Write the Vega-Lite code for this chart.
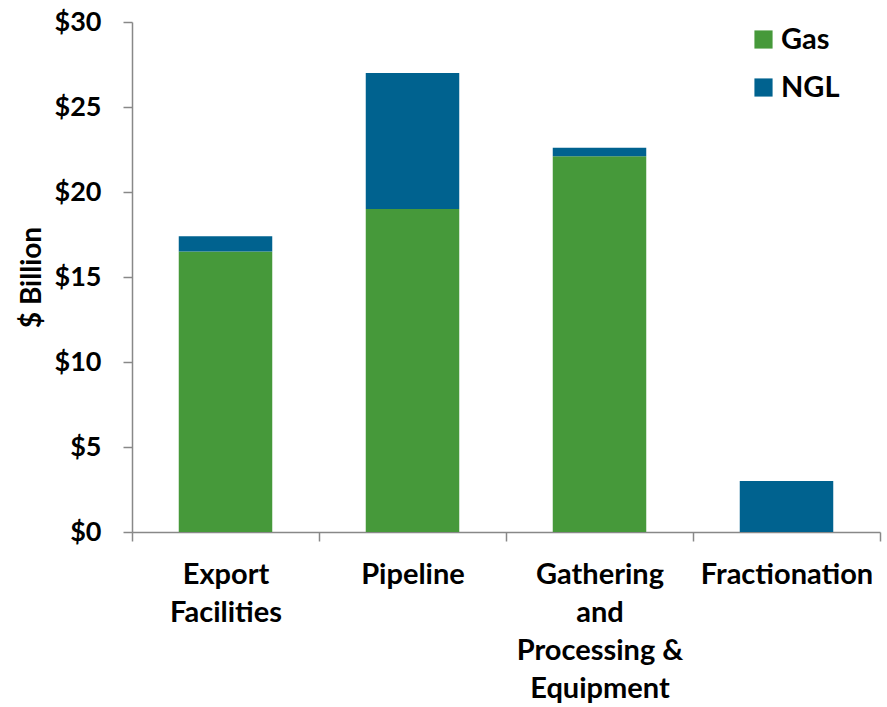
{
  "$schema": "https://vega.github.io/schema/vega-lite/v6.json",
  "width": 748,
  "height": 510,
  "autosize": {"type": "none"},
  "padding": {"left": 132, "top": 22, "right": 7, "bottom": 175},
  "background": "white",
  "data": {
    "values": [
      {"category": "Export Facilities", "type": "Gas", "value": 16.5},
      {"category": "Export Facilities", "type": "NGL", "value": 0.9},
      {"category": "Pipeline", "type": "Gas", "value": 19.0},
      {"category": "Pipeline", "type": "NGL", "value": 8.0},
      {"category": "Gathering and Processing & Equipment", "type": "Gas", "value": 22.1},
      {"category": "Gathering and Processing & Equipment", "type": "NGL", "value": 0.5},
      {"category": "Fractionation", "type": "NGL", "value": 3.0}
    ]
  },
  "mark": {"type": "bar", "width": {"band": 0.5}},
  "encoding": {
    "x": {
      "field": "category",
      "type": "nominal",
      "sort": ["Export Facilities", "Pipeline", "Gathering and Processing & Equipment", "Fractionation"],
      "scale": {"paddingInner": 0, "paddingOuter": 0},
      "axis": {
        "title": null,
        "labelAngle": 0,
        "bandPosition": 0,
        "ticks": true,
        "tickBand": "extent",
        "tickSize": 9,
        "tickColor": "#888888",
        "domainColor": "#888888",
        "domainWidth": 1.5,
        "tickWidth": 1.5,
        "labelFont": "Lato",
        "labelFontWeight": "bold",
        "labelFontSize": 29,
        "labelColor": "#000000",
        "labelPadding": 19,
        "labelLineHeight": 38,
        "labelBaseline": "top",
        "labelExpr": "datum.value == 'Export Facilities' ? ['Export', 'Facilities'] : datum.value == 'Gathering and Processing & Equipment' ? ['Gathering', 'and', 'Processing &', 'Equipment'] : datum.value"
      }
    },
    "y": {
      "field": "value",
      "type": "quantitative",
      "aggregate": "sum",
      "stack": "zero",
      "scale": {"domain": [0, 30], "nice": false},
      "axis": {
        "title": "$ Billion",
        "titleFont": "Lato",
        "titleFontWeight": "bold",
        "titleFontSize": 28,
        "titleColor": "#000000",
        "titlePadding": 8,
        "values": [0, 5, 10, 15, 20, 25, 30],
        "labelExpr": "'$' + datum.value",
        "labelFont": "Lato",
        "labelFontWeight": "bold",
        "labelFontSize": 27,
        "labelColor": "#000000",
        "labelPadding": 22,
        "tickSize": 9,
        "tickColor": "#888888",
        "tickWidth": 1.5,
        "domainColor": "#888888",
        "domainWidth": 1.5,
        "grid": false
      }
    },
    "color": {
      "field": "type",
      "type": "nominal",
      "scale": {"domain": ["Gas", "NGL"], "range": ["#46993A", "#00628F"]},
      "legend": {
        "title": null,
        "orient": "none",
        "legendX": 617,
        "legendY": 3,
        "symbolType": "square",
        "symbolSize": 330,
        "symbolStrokeWidth": 0,
        "labelFont": "Lato",
        "labelFontWeight": "bold",
        "labelFontSize": 29,
        "labelColor": "#000000",
        "labelOffset": 3,
        "rowPadding": 18
      }
    },
    "order": {"field": "type", "sort": "ascending"}
  },
  "config": {"view": {"stroke": null}}
}
